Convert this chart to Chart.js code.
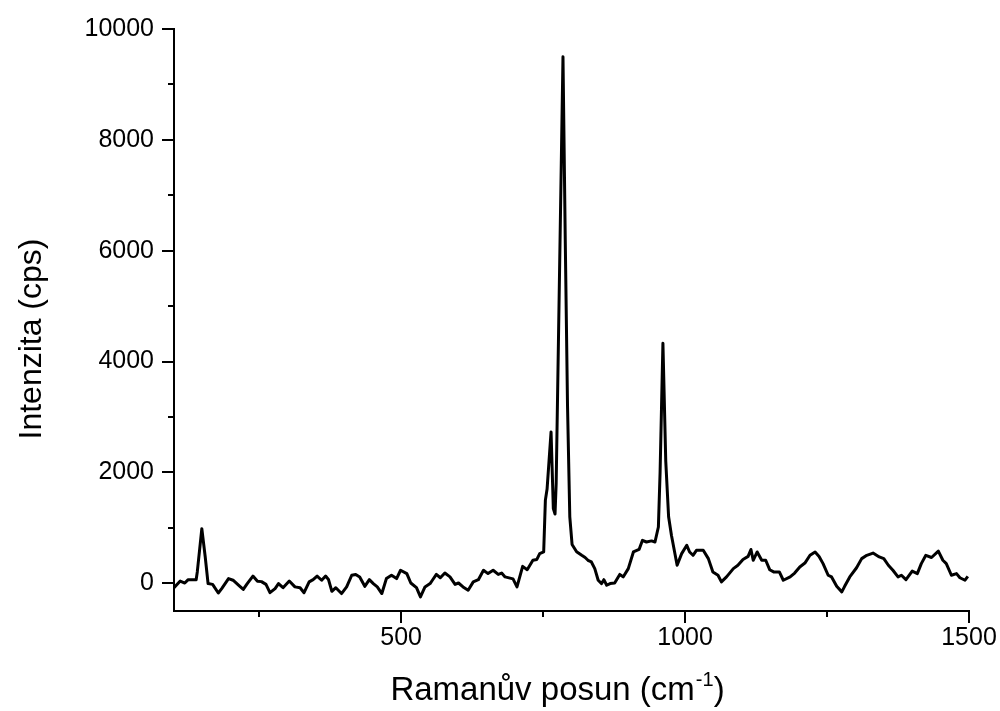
<!DOCTYPE html>
<html>
<head>
<meta charset="utf-8">
<script src="https://cdn.jsdelivr.net/npm/chart.js@4/dist/chart.umd.min.js"></script>
<style>
  html, body { margin: 0; padding: 0; background: #fff; }
  #spectrum { display: block; }
</style>
</head>
<body>
<canvas id="spectrum" width="1000" height="711"></canvas>
<script>
// Raman shift (cm-1) and intensity (cps)
const shifts = [
  100, 111, 119, 125, 134, 139, 141, 149, 155, 160, 168, 178, 184, 196, 204, 216, 222, 229, 239, 247,
  254, 262, 269, 278, 284, 292, 303, 313, 322, 329, 338, 345, 352, 360, 367, 372, 378, 385, 395, 404,
  413, 420, 427, 436, 444, 451, 458, 466, 474, 483, 492, 499, 510, 517, 527, 534, 542, 551, 555, 562,
  569, 577, 586, 595, 601, 609, 618, 627, 636, 645, 653, 662, 671, 677, 683, 697, 704, 714, 722, 732,
  739, 744, 751, 754, 757, 764, 768, 771, 773, 785, 789, 793, 797, 801, 809, 818, 824, 829, 835, 841,
  847, 853, 857, 862, 868, 876, 885, 891, 900, 909, 919, 925, 932, 941, 947, 953, 956, 961, 966, 971,
  976, 986, 994, 1003, 1008, 1014, 1020, 1032, 1041, 1049, 1058, 1064, 1073, 1085, 1093, 1102, 1111, 1116, 1120, 1127,
  1135, 1142, 1149, 1156, 1166, 1173, 1185, 1193, 1202, 1211, 1220, 1229, 1236, 1243, 1252, 1258, 1267, 1276, 1281, 1290,
  1302, 1311, 1320, 1331, 1342, 1350, 1358, 1366, 1375, 1381, 1389, 1400, 1409, 1416, 1424, 1434, 1446, 1454, 1460, 1469,
  1478, 1484, 1493, 1498
];
const intensity = [
  -80, 40, 5, 65, 65, 65, 205, 985, 475, -5, -20, -175, -95, 85, 55, -55, -110, -5, 130, 35,
  30, -20, -170, -95, -5, -80, 40, -65, -80, -170, 25, 65, 130, 55, 130, 70, -145, -80, -185, -65,
  145, 160, 115, -55, 65, -5, -65, -185, 85, 145, 85, 235, 175, 5, -80, -245, -65, -5, 55, 160,
  100, 185, 115, -20, 5, -65, -125, 25, 65, 235, 175, 235, 160, 185, 115, 80, -65, 305, 245, 415,
  430, 535, 565, 1500, 1700, 2730, 1350, 1250, 1800, 9500, 6200, 3200, 1200, 700, 570, 505, 465, 415, 385, 265,
  55, -5, 65, -35, -5, 5, 160, 115, 265, 565, 610, 775, 745, 765, 745, 1015, 2000, 4330, 2200, 1200,
  865, 325, 535, 685, 565, 505, 595, 595, 445, 205, 145, 25, 115, 265, 325, 430, 485, 610, 415, 565,
  415, 415, 245, 205, 205, 55, 115, 185, 295, 365, 505, 565, 485, 355, 145, 115, -55, -155, -55, 115,
  280, 445, 505, 545, 475, 445, 325, 235, 115, 145, 65, 220, 175, 355, 505, 465, 580, 415, 355, 145,
  175, 100, 55, 125
];

const xLabels = [500, 1000, 1500];
const xMinor = [250, 750, 1250];
const yLabels = [0, 2000, 4000, 6000, 8000, 10000];
const yMinor = [1000, 3000, 5000, 7000, 9000];

const FONT = "'Liberation Sans', Arial, sans-serif";

// tick marks and axis titles drawn by hand (major long, minor short)
const axisDecor = {
  id: 'axisDecor',
  afterDraw(chart) {
    const c = chart.ctx;
    const xs = chart.scales.x, ys = chart.scales.y;
    const area = chart.chartArea;
    c.save();
    c.strokeStyle = '#000';
    c.lineWidth = 2;
    c.beginPath();
    xLabels.concat(xMinor).forEach(v => {
      const px = Math.round(xs.getPixelForValue(v));
      const len = xLabels.includes(v) ? 12 : 6;
      c.moveTo(px, area.bottom);
      c.lineTo(px, area.bottom + len);
    });
    yLabels.concat(yMinor).forEach(v => {
      const py = Math.round(ys.getPixelForValue(v));
      const len = yLabels.includes(v) ? 12 : 6;
      c.moveTo(area.left, py);
      c.lineTo(area.left - len, py);
    });
    c.stroke();

    c.fillStyle = '#000';
    // y title
    c.save();
    c.translate(32, 339);
    c.rotate(-Math.PI / 2);
    c.font = '32px ' + FONT;
    c.textAlign = 'center';
    c.textBaseline = 'middle';
    c.fillText('Intenzita (cps)', 0, 0);
    c.restore();

    // x title with superscript
    const main = 'Ramanův posun (cm';
    const sup = '-1';
    const close = ')';
    c.font = '33px ' + FONT;
    const w1 = c.measureText(main).width;
    const w3 = c.measureText(close).width;
    c.font = '20px ' + FONT;
    const w2 = c.measureText(sup).width;
    let x0 = 557 - (w1 + w2 + w3) / 2;
    const base = 700;
    c.textAlign = 'left';
    c.textBaseline = 'alphabetic';
    c.font = '33px ' + FONT;
    c.fillText(main, x0, base);
    c.font = '20px ' + FONT;
    c.fillText(sup, x0 + w1 + 1, base - 14);
    c.font = '33px ' + FONT;
    c.fillText(close, x0 + w1 + w2 + 1, base);
    c.restore();
  }
};

const ctx = document.getElementById('spectrum').getContext('2d');

new Chart(ctx, {
  type: 'line',
  data: {
    datasets: [{
      label: 'Raman',
      data: shifts.map((s, i) => ({ x: s, y: intensity[i] })),
      borderColor: '#000',
      borderWidth: 3,
      borderJoinStyle: 'round',
      tension: 0,
      fill: false
    }]
  },
  options: {
    responsive: false,
    animation: false,
    events: [],
    elements: {
      point: { radius: 0 }
    },
    layout: {
      padding: { top: 29, right: 31, left: 0, bottom: 0 }
    },
    plugins: {
      legend: { display: false },
      tooltip: { enabled: false }
    },
    scales: {
      x: {
        type: 'linear',
        min: 100,
        max: 1500,
        afterBuildTicks: s => { s.ticks = xLabels.map(v => ({ value: v })); },
        afterFit: s => { s.height = 100; s.paddingLeft = 0; s.paddingRight = 0; },
        grid: { display: true, drawOnChartArea: false, drawTicks: false },
        border: { display: true, color: '#000', width: 2 },
        ticks: {
          color: '#000',
          font: { family: FONT, size: 25 },
          padding: 12,
          maxRotation: 0,
          callback: v => String(v)
        }
      },
      y: {
        min: -500,
        max: 10000,
        afterBuildTicks: s => { s.ticks = yLabels.map(v => ({ value: v })); },
        afterFit: s => { s.width = 174; s.paddingTop = 0; s.paddingBottom = 0; },
        grid: { display: true, drawOnChartArea: false, drawTicks: false },
        border: { display: true, color: '#000', width: 2 },
        ticks: {
          color: '#000',
          font: { family: FONT, size: 25 },
          padding: 20,
          callback: v => String(v)
        }
      }
    }
  },
  plugins: [axisDecor]
});
</script>
</body>
</html>
